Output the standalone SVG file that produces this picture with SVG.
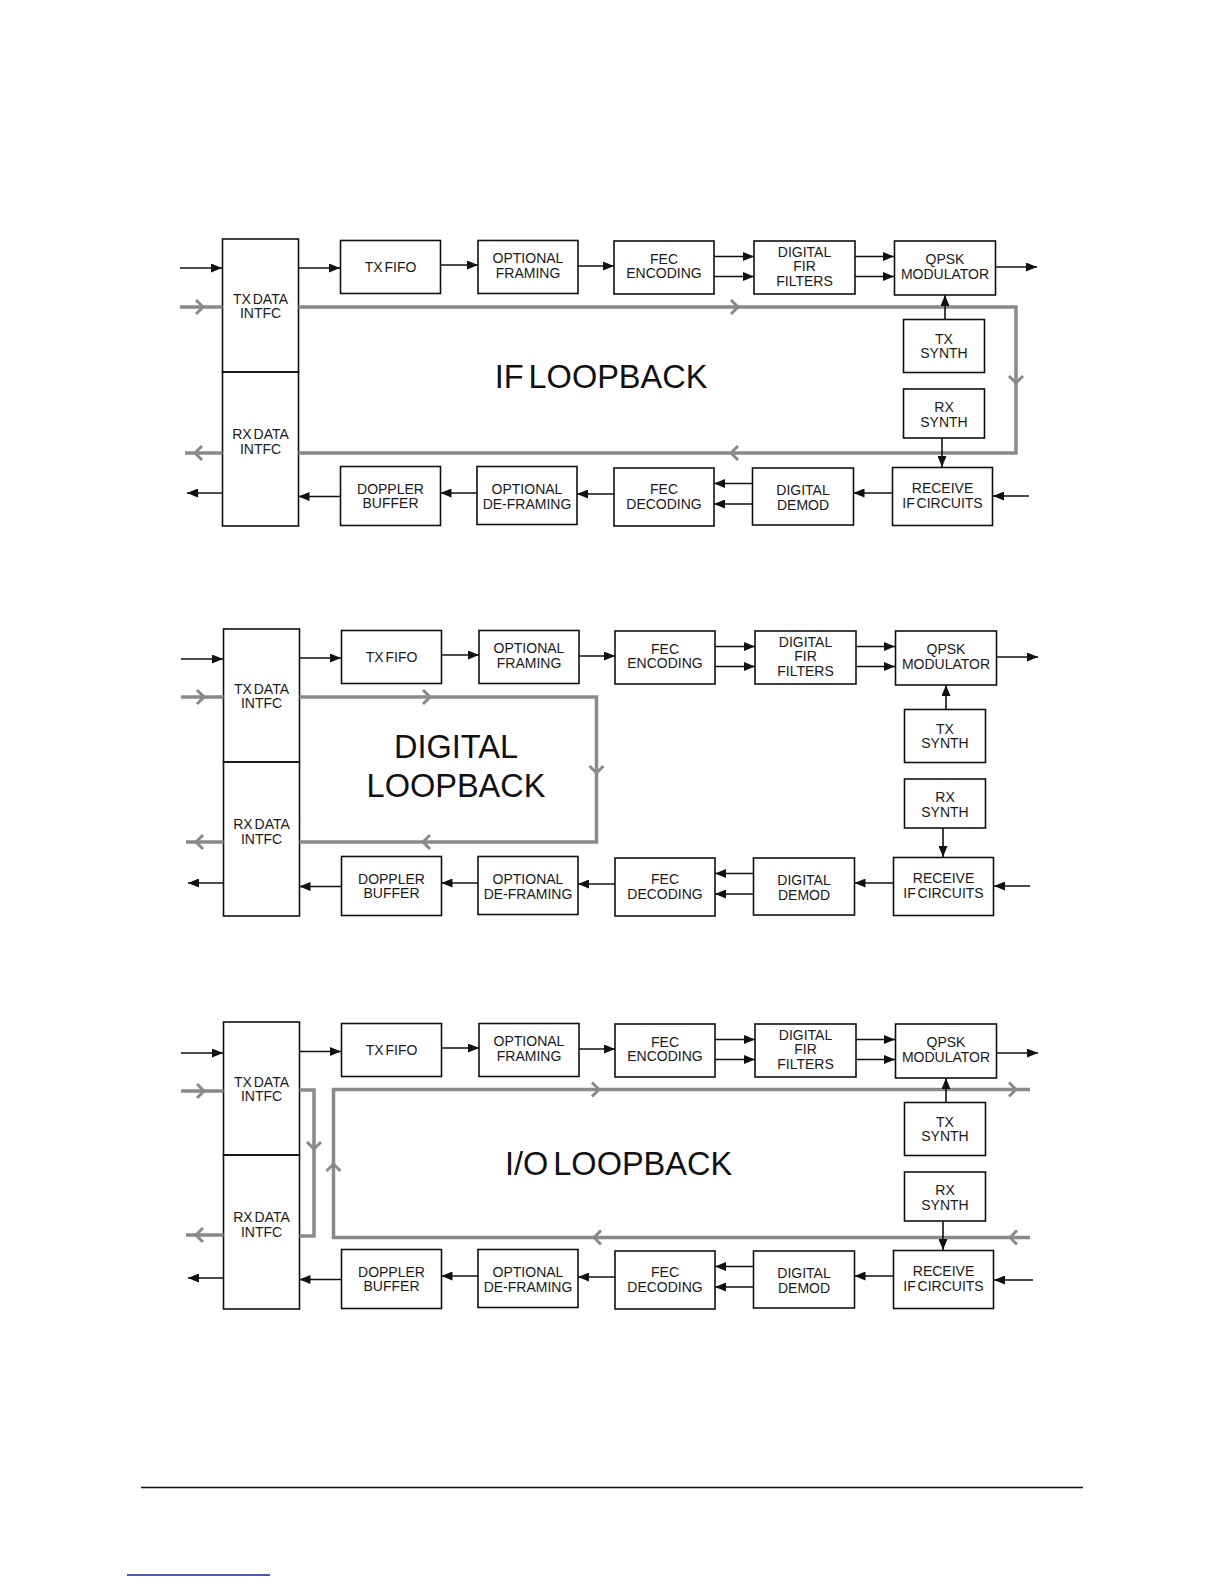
<svg xmlns="http://www.w3.org/2000/svg" xmlns:xlink="http://www.w3.org/1999/xlink" width="1224" height="1584" viewBox="0 0 1224 1584">
<style>
.box{fill:none;stroke:#111;stroke-width:1.6}
.lbl{font-family:"Liberation Sans",Arial,sans-serif;font-size:14px;text-anchor:middle;fill:#1a1a1a}
.ws{word-spacing:-2px}
.big{font-family:"Liberation Sans",Arial,sans-serif;font-size:32.5px;text-anchor:middle;fill:#111;word-spacing:-4px}
.arr{fill:none;stroke:#111;stroke-width:1.6;marker-end:url(#ah)}
.loop{fill:none;stroke:#8a8a8a;stroke-width:3.5}
.chv{fill:none;stroke:#8a8a8a;stroke-width:3}
</style>
<defs>
<marker id="ah" markerUnits="userSpaceOnUse" markerWidth="11" markerHeight="9" refX="11" refY="4.5" orient="auto"><path d="M0,0 L11,4.5 L0,9 z" fill="#111"/></marker>
<path id="chev" d="M-7,-7 L0,0 L-7,7"/>
</defs>
<rect width="1224" height="1584" fill="#fff"/>

<!-- ===================== IF LOOPBACK ===================== -->
<g id="if-diagram">
<g id="if-nodes">
<g id="if-txintfc"><rect class="box" x="222.5" y="239" width="76" height="133"/><text class="lbl ws" x="260.5" y="303.5">TX DATA</text><text class="lbl" x="260.5" y="318">INTFC</text></g>
<g id="if-rxintfc"><rect class="box" x="222.5" y="372" width="76" height="154"/><text class="lbl ws" x="260.5" y="439">RX DATA</text><text class="lbl" x="260.5" y="453.5">INTFC</text></g>
<g id="if-txfifo"><rect class="box" x="340.5" y="240.5" width="100" height="53"/><text class="lbl ws" x="390.5" y="271.5">TX FIFO</text></g>
<g id="if-framing"><rect class="box" x="478" y="240.5" width="100" height="53"/><text class="lbl" x="528" y="263">OPTIONAL</text><text class="lbl" x="528" y="277.5">FRAMING</text></g>
<g id="if-fecenc"><rect class="box" x="614" y="241" width="100" height="53"/><text class="lbl" x="664" y="263.5">FEC</text><text class="lbl" x="664" y="277.5">ENCODING</text></g>
<g id="if-fir"><rect class="box" x="754" y="241" width="101" height="53"/><text class="lbl" x="804.5" y="256.5">DIGITAL</text><text class="lbl" x="804.5" y="271">FIR</text><text class="lbl" x="804.5" y="285.5">FILTERS</text></g>
<g id="if-qpsk"><rect class="box" x="894.5" y="241" width="101" height="54"/><text class="lbl" x="945" y="264">QPSK</text><text class="lbl" x="945" y="278.5">MODULATOR</text></g>
<g id="if-txsynth"><rect class="box" x="903.5" y="319.5" width="81" height="53"/><text class="lbl" x="944" y="343.5">TX</text><text class="lbl" x="944" y="358">SYNTH</text></g>
<g id="if-rxsynth"><rect class="box" x="903.5" y="389" width="81" height="49"/><text class="lbl" x="944" y="411.5">RX</text><text class="lbl" x="944" y="426.5">SYNTH</text></g>
<g id="if-receive"><rect class="box" x="892.5" y="467.5" width="100" height="58"/><text class="lbl" x="942.5" y="492.5">RECEIVE</text><text class="lbl ws" x="942.5" y="507.5">IF CIRCUITS</text></g>
<g id="if-demod"><rect class="box" x="752.5" y="468" width="101" height="57"/><text class="lbl" x="803" y="495">DIGITAL</text><text class="lbl" x="803" y="509.5">DEMOD</text></g>
<g id="if-fecdec"><rect class="box" x="614" y="468" width="100" height="58"/><text class="lbl" x="664" y="494">FEC</text><text class="lbl" x="664" y="508.5">DECODING</text></g>
<g id="if-deframing"><rect class="box" x="477" y="466.5" width="100" height="58"/><text class="lbl" x="527" y="494">OPTIONAL</text><text class="lbl" x="527" y="509">DE-FRAMING</text></g>
<g id="if-doppler"><rect class="box" x="340.5" y="466.5" width="100" height="59"/><text class="lbl" x="390.5" y="493.5">DOPPLER</text><text class="lbl" x="390.5" y="508">BUFFER</text></g>
<g id="if-title"><text class="big" x="601" y="388">IF LOOPBACK</text></g>
</g>
<g id="if-connectors">
<path class="loop" d="M180,307 H222.5"/>
<path class="loop" d="M222.5,453 H185"/>
<path class="loop" d="M298.5,307 H1016 V453 H298.5"/>
<use href="#chev" class="chv" transform="translate(203,307)"/>
<use href="#chev" class="chv" transform="translate(195,453) rotate(180)"/>
<use href="#chev" class="chv" transform="translate(738,307)"/>
<use href="#chev" class="chv" transform="translate(1016,383) rotate(90)"/>
<use href="#chev" class="chv" transform="translate(731,453) rotate(180)"/>
<path class="arr" d="M180,268 H222"/>
<path class="arr" d="M298.5,268 H340"/>
<path class="arr" d="M441,265 H478"/>
<path class="arr" d="M578,266 H614"/>
<path class="arr" d="M714,256.5 H754"/>
<path class="arr" d="M714,276.5 H754"/>
<path class="arr" d="M855,256.5 H894"/>
<path class="arr" d="M855,276.5 H894"/>
<path class="arr" d="M995.5,267 H1037"/>
<path class="arr" d="M945,319.5 V295"/>
<path class="arr" d="M942,438 V467"/>
<path class="arr" d="M1029,496 H993"/>
<path class="arr" d="M892.5,493 H853.5"/>
<path class="arr" d="M752.5,483.5 H714"/>
<path class="arr" d="M752.5,504 H714"/>
<path class="arr" d="M614,494 H577"/>
<path class="arr" d="M477,493 H440.5"/>
<path class="arr" d="M340.5,496.5 H298.5"/>
<path class="arr" d="M222.5,493 H187"/>
</g>
</g>

<!-- ===================== DIGITAL LOOPBACK ===================== -->
<g id="dig-diagram" transform="translate(1,390)">
<g id="dig-nodes">
<g id="dig-txintfc"><rect class="box" x="222.5" y="239" width="76" height="133"/><text class="lbl ws" x="260.5" y="303.5">TX DATA</text><text class="lbl" x="260.5" y="318">INTFC</text></g>
<g id="dig-rxintfc"><rect class="box" x="222.5" y="372" width="76" height="154"/><text class="lbl ws" x="260.5" y="439">RX DATA</text><text class="lbl" x="260.5" y="453.5">INTFC</text></g>
<g id="dig-txfifo"><rect class="box" x="340.5" y="240.5" width="100" height="53"/><text class="lbl ws" x="390.5" y="271.5">TX FIFO</text></g>
<g id="dig-framing"><rect class="box" x="478" y="240.5" width="100" height="53"/><text class="lbl" x="528" y="263">OPTIONAL</text><text class="lbl" x="528" y="277.5">FRAMING</text></g>
<g id="dig-fecenc"><rect class="box" x="614" y="241" width="100" height="53"/><text class="lbl" x="664" y="263.5">FEC</text><text class="lbl" x="664" y="277.5">ENCODING</text></g>
<g id="dig-fir"><rect class="box" x="754" y="241" width="101" height="53"/><text class="lbl" x="804.5" y="256.5">DIGITAL</text><text class="lbl" x="804.5" y="271">FIR</text><text class="lbl" x="804.5" y="285.5">FILTERS</text></g>
<g id="dig-qpsk"><rect class="box" x="894.5" y="241" width="101" height="54"/><text class="lbl" x="945" y="264">QPSK</text><text class="lbl" x="945" y="278.5">MODULATOR</text></g>
<g id="dig-txsynth"><rect class="box" x="903.5" y="319.5" width="81" height="53"/><text class="lbl" x="944" y="343.5">TX</text><text class="lbl" x="944" y="358">SYNTH</text></g>
<g id="dig-rxsynth"><rect class="box" x="903.5" y="389" width="81" height="49"/><text class="lbl" x="944" y="411.5">RX</text><text class="lbl" x="944" y="426.5">SYNTH</text></g>
<g id="dig-receive"><rect class="box" x="892.5" y="467.5" width="100" height="58"/><text class="lbl" x="942.5" y="492.5">RECEIVE</text><text class="lbl ws" x="942.5" y="507.5">IF CIRCUITS</text></g>
<g id="dig-demod"><rect class="box" x="752.5" y="468" width="101" height="57"/><text class="lbl" x="803" y="495">DIGITAL</text><text class="lbl" x="803" y="509.5">DEMOD</text></g>
<g id="dig-fecdec"><rect class="box" x="614" y="468" width="100" height="58"/><text class="lbl" x="664" y="494">FEC</text><text class="lbl" x="664" y="508.5">DECODING</text></g>
<g id="dig-deframing"><rect class="box" x="477" y="466.5" width="100" height="58"/><text class="lbl" x="527" y="494">OPTIONAL</text><text class="lbl" x="527" y="509">DE-FRAMING</text></g>
<g id="dig-doppler"><rect class="box" x="340.5" y="466.5" width="100" height="59"/><text class="lbl" x="390.5" y="493.5">DOPPLER</text><text class="lbl" x="390.5" y="508">BUFFER</text></g>
<g id="dig-title"><text class="big" x="455" y="368">DIGITAL</text><text class="big" x="455" y="407">LOOPBACK</text></g>
</g>
<g id="dig-connectors">
<path class="loop" d="M180,307 H222.5"/>
<path class="loop" d="M222.5,452 H185"/>
<path class="loop" d="M298.5,307 H595.5 V452 H298.5"/>
<use href="#chev" class="chv" transform="translate(203,307)"/>
<use href="#chev" class="chv" transform="translate(195,452) rotate(180)"/>
<use href="#chev" class="chv" transform="translate(429,307)"/>
<use href="#chev" class="chv" transform="translate(595.5,383) rotate(90)"/>
<use href="#chev" class="chv" transform="translate(422,452) rotate(180)"/>
<path class="arr" d="M180,269 H222"/>
<path class="arr" d="M298.5,268 H340"/>
<path class="arr" d="M441,265 H478"/>
<path class="arr" d="M578,266 H614"/>
<path class="arr" d="M714,256.5 H754"/>
<path class="arr" d="M714,276.5 H754"/>
<path class="arr" d="M855,256.5 H894"/>
<path class="arr" d="M855,276.5 H894"/>
<path class="arr" d="M995.5,267 H1037"/>
<path class="arr" d="M945,319.5 V295"/>
<path class="arr" d="M942,438 V467"/>
<path class="arr" d="M1029,496 H993"/>
<path class="arr" d="M892.5,493 H853.5"/>
<path class="arr" d="M752.5,483.5 H714"/>
<path class="arr" d="M752.5,504 H714"/>
<path class="arr" d="M614,494 H577"/>
<path class="arr" d="M477,493 H440.5"/>
<path class="arr" d="M340.5,496.5 H298.5"/>
<path class="arr" d="M222.5,493 H187"/>
</g>
</g>

<!-- ===================== I/O LOOPBACK ===================== -->
<g id="io-diagram" transform="translate(1,783)">
<g id="io-nodes">
<g id="io-txintfc"><rect class="box" x="222.5" y="239" width="76" height="133"/><text class="lbl ws" x="260.5" y="303.5">TX DATA</text><text class="lbl" x="260.5" y="318">INTFC</text></g>
<g id="io-rxintfc"><rect class="box" x="222.5" y="372" width="76" height="154"/><text class="lbl ws" x="260.5" y="439">RX DATA</text><text class="lbl" x="260.5" y="453.5">INTFC</text></g>
<g id="io-txfifo"><rect class="box" x="340.5" y="240.5" width="100" height="53"/><text class="lbl ws" x="390.5" y="271.5">TX FIFO</text></g>
<g id="io-framing"><rect class="box" x="478" y="240.5" width="100" height="53"/><text class="lbl" x="528" y="263">OPTIONAL</text><text class="lbl" x="528" y="277.5">FRAMING</text></g>
<g id="io-fecenc"><rect class="box" x="614" y="241" width="100" height="53"/><text class="lbl" x="664" y="263.5">FEC</text><text class="lbl" x="664" y="277.5">ENCODING</text></g>
<g id="io-fir"><rect class="box" x="754" y="241" width="101" height="53"/><text class="lbl" x="804.5" y="256.5">DIGITAL</text><text class="lbl" x="804.5" y="271">FIR</text><text class="lbl" x="804.5" y="285.5">FILTERS</text></g>
<g id="io-qpsk"><rect class="box" x="894.5" y="241" width="101" height="54"/><text class="lbl" x="945" y="264">QPSK</text><text class="lbl" x="945" y="278.5">MODULATOR</text></g>
<g id="io-txsynth"><rect class="box" x="903.5" y="319.5" width="81" height="53"/><text class="lbl" x="944" y="343.5">TX</text><text class="lbl" x="944" y="358">SYNTH</text></g>
<g id="io-rxsynth"><rect class="box" x="903.5" y="389" width="81" height="49"/><text class="lbl" x="944" y="411.5">RX</text><text class="lbl" x="944" y="426.5">SYNTH</text></g>
<g id="io-receive"><rect class="box" x="892.5" y="467.5" width="100" height="58"/><text class="lbl" x="942.5" y="492.5">RECEIVE</text><text class="lbl ws" x="942.5" y="507.5">IF CIRCUITS</text></g>
<g id="io-demod"><rect class="box" x="752.5" y="468" width="101" height="57"/><text class="lbl" x="803" y="495">DIGITAL</text><text class="lbl" x="803" y="509.5">DEMOD</text></g>
<g id="io-fecdec"><rect class="box" x="614" y="468" width="100" height="58"/><text class="lbl" x="664" y="494">FEC</text><text class="lbl" x="664" y="508.5">DECODING</text></g>
<g id="io-deframing"><rect class="box" x="477" y="466.5" width="100" height="58"/><text class="lbl" x="527" y="494">OPTIONAL</text><text class="lbl" x="527" y="509">DE-FRAMING</text></g>
<g id="io-doppler"><rect class="box" x="340.5" y="466.5" width="100" height="59"/><text class="lbl" x="390.5" y="493.5">DOPPLER</text><text class="lbl" x="390.5" y="508">BUFFER</text></g>
<g id="io-title"><text class="big" x="617.5" y="392">I/O LOOPBACK</text></g>
</g>
<g id="io-connectors">
<path class="loop" d="M180,308 H222.5"/>
<path class="loop" d="M222.5,452 H185"/>
<path class="loop" d="M298.5,307 H313 V453 H298.5"/>
<path class="loop" d="M1029,306.5 H332.5 V454.5 H1029"/>
<use href="#chev" class="chv" transform="translate(203,308)"/>
<use href="#chev" class="chv" transform="translate(195,452) rotate(180)"/>
<use href="#chev" class="chv" transform="translate(313,366) rotate(90)"/>
<use href="#chev" class="chv" transform="translate(332.5,381) rotate(-90)"/>
<use href="#chev" class="chv" transform="translate(598,306.5)"/>
<use href="#chev" class="chv" transform="translate(1015,306.5)"/>
<use href="#chev" class="chv" transform="translate(593,454.5) rotate(180)"/>
<use href="#chev" class="chv" transform="translate(1009,454.5) rotate(180)"/>
<path class="arr" d="M180,270 H222"/>
<path class="arr" d="M298.5,268.5 H340"/>
<path class="arr" d="M441,265 H478"/>
<path class="arr" d="M578,266 H614"/>
<path class="arr" d="M714,256.5 H754"/>
<path class="arr" d="M714,276.5 H754"/>
<path class="arr" d="M855,256.5 H894"/>
<path class="arr" d="M855,276.5 H894"/>
<path class="arr" d="M995.5,270 H1037"/>
<path class="arr" d="M945,319.5 V295"/>
<path class="arr" d="M942,438 V467"/>
<path class="arr" d="M1032,497 H993"/>
<path class="arr" d="M892.5,493 H853.5"/>
<path class="arr" d="M752.5,483.5 H714"/>
<path class="arr" d="M752.5,504 H714"/>
<path class="arr" d="M614,494 H577"/>
<path class="arr" d="M477,493 H440.5"/>
<path class="arr" d="M340.5,496.5 H298.5"/>
<path class="arr" d="M222.5,495 H187"/>
</g>
</g>

<g id="footer">
<path d="M141,1487.5 H1083" stroke="#111" stroke-width="1.5" fill="none"/>
<path d="M127,1575 H270" stroke="#1c1c9c" stroke-width="1.5" fill="none"/>
</g>
</svg>
